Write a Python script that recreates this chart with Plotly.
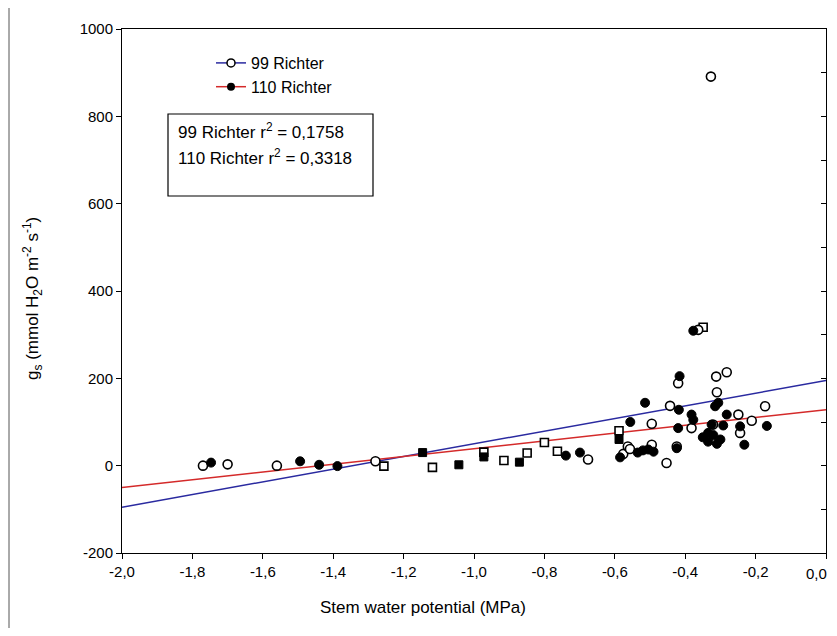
import plotly.graph_objects as go

# ---- data ----
x99 = [-1.77, -1.70, -1.56, -1.28, -0.676, -0.576, -0.563, -0.557, -0.495, -0.495,
       -0.453, -0.443, -0.42, -0.424, -0.382, -0.363, -0.327, -0.312, -0.282, -0.31,
       -0.321, -0.249, -0.244, -0.211, -0.173]
y99 = [0, 3, 0, 10, 14, 27, 44, 38, 48, 96,
       6, 137, 189, 44, 86, 311, 891, 204, 214, 168,
       94, 117, 75, 103, 136]

x110 = [-1.747, -1.494, -1.44, -1.388, -0.739, -0.699, -0.585, -0.556, -0.535, -0.52,
        -0.505, -0.49, -0.514, -0.424, -0.416, -0.418, -0.42, -0.382, -0.377, -0.377,
        -0.315, -0.306, -0.282, -0.325, -0.292, -0.244, -0.35, -0.335, -0.32, -0.31,
        -0.30, -0.335, -0.232, -0.168]
y110 = [7, 10, 2, -1, 23, 30, 19, 100, 30, 35,
        37, 32, 144, 40, 205, 128, 86, 117, 105, 309,
        136, 144, 117, 94, 92, 90, 65, 55, 70, 50,
        60, 75, 48, 91]

xsq_open = [-1.256, -1.118, -0.972, -0.915, -0.849, -0.80, -0.763, -0.588, -0.349]
ysq_open = [-1, -4, 31, 12, 29, 53, 33, 80, 317]
xsq_fill = [-1.146, -1.043, -0.972, -0.871, -0.588]
ysq_fill = [30, 2, 20, 8, 60]

fit_x = [-2.0, 0.0]
fit99 = [-95, 195]
fit110 = [-50, 128]

xtick_vals = [-2.0, -1.8, -1.6, -1.4, -1.2, -1.0, -0.8, -0.6, -0.4, -0.2, 0.0]
xtick_text = ["-2,0", "-1,8", "-1,6", "-1,4", "-1,2", "-1,0", "-0,8", "-0,6", "-0,4", "-0,2", "0,0"]
ytick_vals = [-200, 0, 200, 400, 600, 800, 1000]
ytick_text = ["-200", "0", "200", "400", "600", "800", "1000"]

BLUE = "#2a2aa0"
RED = "#d42a2a"
FONT = "Liberation Sans, Arial, sans-serif"

fig = go.Figure()

fig.add_trace(go.Scatter(x=fit_x, y=fit99, mode="lines", line=dict(color=BLUE, width=1.5),
                         showlegend=False, hoverinfo="skip"))
fig.add_trace(go.Scatter(x=fit_x, y=fit110, mode="lines", line=dict(color=RED, width=1.5),
                         showlegend=False, hoverinfo="skip"))

fig.add_trace(go.Scatter(x=xsq_open, y=ysq_open, mode="markers", showlegend=False,
                         marker=dict(symbol="square", size=8, color="white",
                                     line=dict(color="black", width=1.6))))
fig.add_trace(go.Scatter(x=xsq_fill, y=ysq_fill, mode="markers", showlegend=False,
                         marker=dict(symbol="square", size=8, color="black",
                                     line=dict(color="black", width=1))))
fig.add_trace(go.Scatter(x=x99, y=y99, mode="markers", showlegend=False,
                         marker=dict(symbol="circle", size=9, color="white",
                                     line=dict(color="black", width=1.6))))
fig.add_trace(go.Scatter(x=x110, y=y110, mode="markers", showlegend=False,
                         marker=dict(symbol="circle", size=9, color="black",
                                     line=dict(color="black", width=1))))

# legend entries
fig.add_trace(go.Scatter(x=[None], y=[None], mode="lines+markers", name="99 Richter",
                         line=dict(color=BLUE, width=1.5),
                         marker=dict(symbol="circle", size=8, color="white",
                                     line=dict(color="black", width=1.5))))
fig.add_trace(go.Scatter(x=[None], y=[None], mode="lines+markers", name="110 Richter",
                         line=dict(color=RED, width=1.5),
                         marker=dict(symbol="circle", size=8, color="black")))

# invisible trace for right-hand inner ticks
fig.add_trace(go.Scatter(x=[None], y=[None], yaxis="y2", showlegend=False, hoverinfo="skip"))

OFF = 8  # page body offset
L, T = 114, 21
PW, PH = 704, 524
W, H = 821, 620
R = W - L - PW
B = H - T - PH


def sx(xs):
    return (xs - OFF - L) / PW


def sy(ys):
    return 1 - (ys - OFF - T) / PH


# the last tick label would overflow the page; it is drawn right-aligned at its tick
main_text = xtick_text[:-1] + [""]

fig.update_layout(
    width=W, height=H, autosize=False,
    margin=dict(l=L, r=R, t=T, b=B),
    paper_bgcolor="white", plot_bgcolor="white",
    font=dict(family=FONT, size=15, color="black"),
    xaxis=dict(range=[-2.0, 0.0], tickvals=xtick_vals, ticktext=main_text,
               showgrid=False, zeroline=False, showline=True, linecolor="black",
               linewidth=1, mirror=True, ticks="outside", ticklen=5, tickcolor="black",
               tickfont=dict(size=15)),
    yaxis=dict(range=[-200, 1000], tickvals=ytick_vals, ticktext=ytick_text,
               showgrid=False, zeroline=False, showline=True, linecolor="black",
               linewidth=1, mirror=True, ticks="outside", ticklen=5, tickcolor="black",
               tickfont=dict(size=15)),
    yaxis2=dict(range=[-200, 1000], overlaying="y", side="right", anchor="x",
                showgrid=False, zeroline=False, showticklabels=False,
                ticks="inside", ticklen=5, tickcolor="black", dtick=100, tick0=0),
    legend=dict(x=sx(211), y=sy(46), xanchor="left", yanchor="top",
                bgcolor="rgba(0,0,0,0)", font=dict(size=16), itemwidth=30,
                tracegroupgap=0),
    shapes=[
        dict(type="rect", xref="paper", yref="paper", x0=sx(168), x1=sx(373),
             y0=sy(196), y1=sy(114), line=dict(color="black", width=1.2)),
        dict(type="line", xref="paper", yref="paper", x0=sx(9), x1=sx(9),
             y0=sy(634), y1=sy(0), line=dict(color="#555555", width=1)),
    ],
    annotations=[
        dict(xref="x", yref="paper", x=xtick_vals[-1], y=sy(573), xanchor="right",
             yanchor="middle", xshift=2, showarrow=False, borderpad=0,
             font=dict(size=15), text=xtick_text[-1]),
        dict(xref="paper", yref="paper", x=sx(176), y=sy(131), xanchor="left", yanchor="middle",
             align="left", showarrow=False, font=dict(size=17),
             text="99 Richter r<sup>2</sup> = 0,1758"),
        dict(xref="paper", yref="paper", x=sx(176), y=sy(157), xanchor="left", yanchor="middle",
             align="left", showarrow=False, font=dict(size=17),
             text="110 Richter r<sup>2</sup> = 0,3318"),
        dict(xref="paper", yref="paper", x=sx(423), y=sy(607), xanchor="center", yanchor="middle",
             showarrow=False, font=dict(size=17), text="Stem water potential (MPa)"),
        dict(xref="paper", yref="paper", x=sx(32), y=sy(299), xanchor="center", yanchor="middle",
             showarrow=False, textangle=-90, font=dict(size=17),
             text="g<sub>s</sub> (mmol H<sub>2</sub>O m<sup>-2</sup> s<sup>-1</sup>)"),
    ],
)

fig.write_html("out.html")
